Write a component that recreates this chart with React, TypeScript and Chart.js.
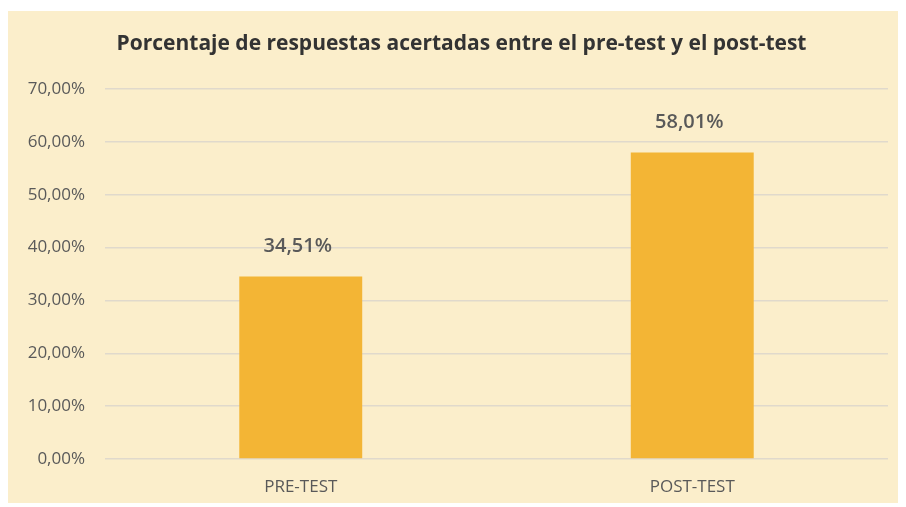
import React, { useEffect, useRef } from "react";
import { Chart, registerables } from "chart.js";

Chart.register(...registerables);

const categories = ["PRE-TEST", "POST-TEST"];
const values = [34.51, 58.01];
const valueLabels = ["34,51%", "58,01%"];
const yTicks = ["0,00%", "10,00%", "20,00%", "30,00%", "40,00%", "50,00%", "60,00%", "70,00%"];
const titleText = "Porcentaje de respuestas acertadas entre el pre-test y el post-test";

const FONT = "'Open Sans', 'Noto Sans', sans-serif";
const TEXT = "#595959";

const valueLabelPlugin = {
  id: "valueLabels",
  afterDatasetsDraw(chart: any) {
    const ctx = chart.ctx;
    const meta = chart.getDatasetMeta(0);
    ctx.save();
    ctx.font = `600 20px ${FONT}`;
    ctx.fillStyle = TEXT;
    ctx.textAlign = "center";
    ctx.textBaseline = "middle";
    meta.data.forEach((bar: any, i: number) => {
      ctx.fillText(valueLabels[i], bar.x - 3, bar.y - 30);
    });
    ctx.restore();
  },
};

const titlePlugin = {
  id: "customTitle",
  afterDraw(chart: any) {
    const ctx = chart.ctx;
    ctx.save();
    ctx.font = `bold 21px ${FONT}`;
    ctx.fillStyle = "#333333";
    ctx.textAlign = "center";
    ctx.textBaseline = "middle";
    ctx.fillText(titleText, chart.width / 2 + 6, 33);
    ctx.restore();
  },
};

export default function App() {
  const ref = useRef<HTMLCanvasElement | null>(null);
  useEffect(() => {
    if (!ref.current) return;
    const chart = new Chart(ref.current, {
      type: "bar",
      data: {
        labels: categories,
        datasets: [
          {
            data: values,
            backgroundColor: "#F3B535",
            borderWidth: 0,
            categoryPercentage: 1,
            barPercentage: 0.314,
          },
        ],
      },
      options: {
        animation: false,
        responsive: true,
        maintainAspectRatio: false,
        layout: { padding: { left: 0, right: 15, top: 78, bottom: 0 } },
        plugins: {
          legend: { display: false },
          tooltip: { enabled: false },
          title: { display: false },
        },
        scales: {
          x: {
            grid: { display: false, drawTicks: false },
            border: { display: false },
            ticks: {
              color: TEXT,
              font: { family: FONT, size: 17 },
              padding: 18,
            },
            afterFit: (s: any) => {
              s.height = 44;
            },
          },
          y: {
            min: 0,
            max: 70,
            ticks: {
              stepSize: 10,
              color: TEXT,
              font: { family: FONT, size: 17 },
              padding: 20,
              callback: (v: any) => yTicks[Math.round(Number(v) / 10)],
            },
            grid: { color: "#E0D9CC", lineWidth: 1.5, drawTicks: false },
            border: { display: false },
            afterFit: (s: any) => {
              s.width = 97;
            },
          },
        },
      },
      plugins: [valueLabelPlugin, titlePlugin],
    });
    return () => chart.destroy();
  }, []);
  return (
    <div
      style={{
        position: "relative",
        marginTop: 3,
        width: 895,
        height: 492,
        background: "#FBEECB",
      }}
    >
      <canvas ref={ref} />
    </div>
  );
}
